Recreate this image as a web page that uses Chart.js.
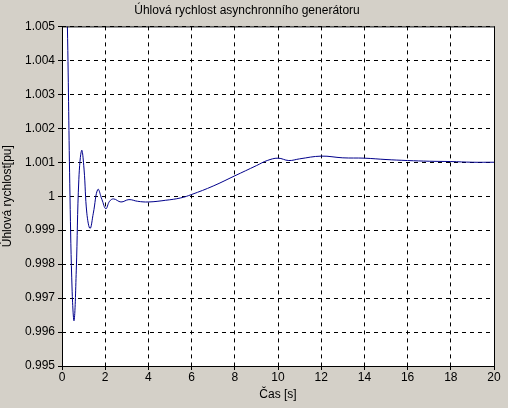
<!DOCTYPE html>
<html>
<head>
<meta charset="utf-8">
<script src="https://cdn.jsdelivr.net/npm/chart.js@4"></script>
<style>
html, body { margin: 0; padding: 0; background: #d4d0c8; }
#wrap { width: 508px; height: 408px; }
</style>
</head>
<body>
<div id="wrap"><canvas id="c" width="508" height="408"></canvas></div>
<script>
// Data
const times = [0, 0.2, 0.25, 0.37, 0.47, 0.56, 0.66, 0.78, 0.91, 1.02, 1.15, 1.3, 1.45, 1.66, 1.85, 2.03, 2.2, 2.39, 2.73, 3.1, 3.5, 4.0, 4.8, 5.5, 6.0, 7.0, 8.0, 9.0, 9.5, 10.0, 10.5, 11.0, 12.0, 13.0, 14.0, 15.0, 16.0, 17.0, 18.0, 19.0, 20.0];
const speed = [1.0070, 1.0060, 1.0050, 1.0000, 0.9972, 0.99634, 0.9978, 1.0005, 1.00135, 1.0008, 0.9995, 0.99905, 0.9995, 1.0002, 0.9999, 0.99963, 0.99985, 0.99992, 0.99983, 0.9999, 0.99985, 0.99983, 0.99988, 0.99995, 1.00005, 1.0003, 1.0006, 1.0009, 1.00105, 1.00112, 1.00105, 1.0011, 1.00118, 1.00113, 1.00112, 1.00108, 1.00105, 1.00103, 1.00102, 1.001, 1.001];
const yTickLabels = {1.005: '1.005', 1.004: '1.004', 1.003: '1.003', 1.002: '1.002', 1.001: '1.001', 1.000: '1', 0.999: '0.999', 0.998: '0.998', 0.997: '0.997', 0.996: '0.996', 0.995: '0.995'};

const font = { family: 'Liberation Sans', size: 12 };

new Chart(document.getElementById('c'), {
    type: 'line',
    data: {
        datasets: [{
            data: times.map((t, i) => ({ x: t, y: speed[i] })),
            borderColor: '#00008b',
            borderWidth: 1,
            pointRadius: 0,
            tension: 0.4,
            fill: false
        }]
    },
    plugins: [{
        id: 'plotBg',
        beforeDraw(chart) {
            const { ctx, chartArea: a } = chart;
            ctx.save();
            ctx.fillStyle = '#d4d0c8';
            ctx.fillRect(0, 0, chart.width, chart.height);
            ctx.fillStyle = '#fff';
            ctx.fillRect(a.left, a.top, a.right - a.left, a.bottom - a.top);
            ctx.restore();
        },
        afterDraw(chart) {
            const { ctx, chartArea: a } = chart;
            ctx.save();
            ctx.strokeStyle = '#000';
            ctx.lineWidth = 1;
            ctx.strokeRect(a.left + 0.5, a.top + 0.5, a.right - a.left, a.bottom - a.top);
            ctx.restore();
        }
    }],
    options: {
        responsive: false,
        animation: false,
        layout: { padding: { top: 0, right: 14, bottom: 0, left: 0 } },
        plugins: {
            legend: { display: false },
            tooltip: { enabled: false },
            title: {
                display: true,
                text: 'Úhlová rychlost asynchronního generátoru',
                color: '#000',
                font: { ...font, weight: 'normal' },
                padding: { top: 3, bottom: 9 }
            }
        },
        scales: {
            x: {
                type: 'linear', min: 0, max: 20,
                ticks: { stepSize: 2, color: '#000', font, maxRotation: 0, padding: 0 },
                grid: { color: '#000', lineWidth: 1, tickLength: 4, tickColor: '#000' },
                border: { display: false, dash: [4, 4] },
                title: { display: true, text: 'Čas [s]', color: '#000', font, padding: { top: 0, bottom: 6 } },
                afterFit(s) { s.height = 42; }
            },
            y: {
                min: 0.995, max: 1.005,
                ticks: { stepSize: 0.001, color: '#000', font, padding: 3,
                    callback: v => yTickLabels[Math.round(v * 1000) / 1000] },
                grid: { color: '#000', lineWidth: 1, tickLength: 4, tickColor: '#000' },
                border: { display: false, dash: [4, 4] },
                title: { display: true, text: 'Úhlová rychlost[pu]', color: '#000', font, padding: 0 },
                afterFit(s) { s.width = 62; }
            }
        }
    }
});
</script>
</body>
</html>
